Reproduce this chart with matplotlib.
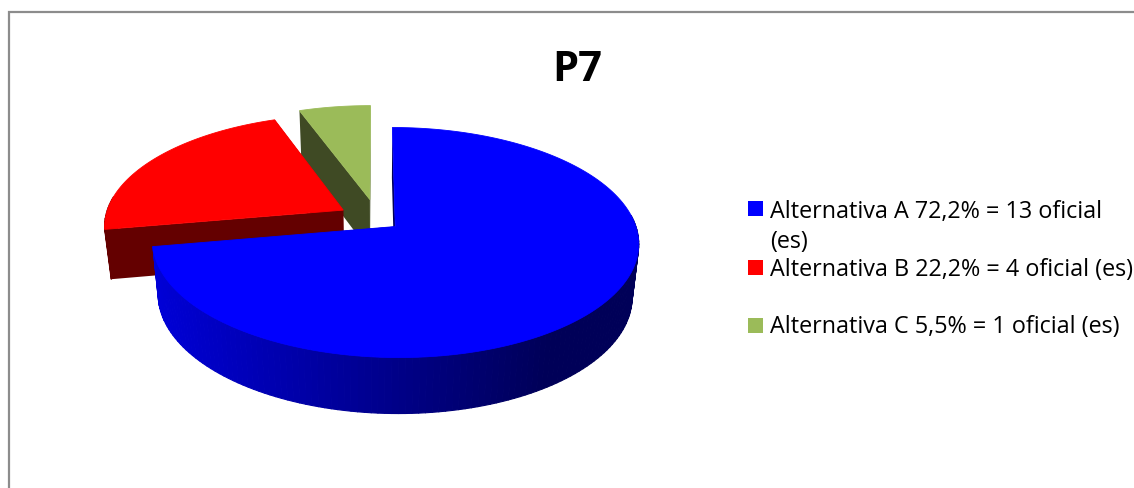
import numpy as np
import matplotlib
matplotlib.use("Agg")
import matplotlib.pyplot as plt
from matplotlib.patches import Polygon, Rectangle
from matplotlib.colors import to_rgb

# ---- data ----
categories = ["Alternativa A", "Alternativa B", "Alternativa C"]
officials = [13, 4, 1]
legend_lines = [["Alternativa A 72,2% = 13 oficial", "(es)"],
                ["Alternativa B 22,2% = 4 oficial (es)"],
                ["Alternativa C 5,5% = 1 oficial (es)"]]
title = "P7"

# ---- style ----
top_colors = ["#0000ff", "#ff0000", "#9bbb59"]
side_left = ["#0000d8", "#640000", "#3f4a24"]
side_right = ["#000058", "#640000", "#3f4a24"]
explode = 0.126
nudge = [(2, 0.5), (-1, 0), (5, -4)]   # per-slice screen shift
depth = [52.5, 49.5, 52.5]
CX, CY, A, B, K = 370, 218, 238, 110.3, 0.1375
SX, SY = 0.975, 1.025
FONT = "Open Sans"

fig = plt.figure(figsize=(11.34, 4.89), dpi=100)
ax = fig.add_axes([0, 0, 1, 1])
ax.set_xlim(0, 1134)
ax.set_ylim(489, 0)
ax.axis("off")


def project(px, py, dy, n):
    w = 1 - K * py
    sx, sy = (SX, SY) if dy else (1, 1)
    return (CX + n[0] + sx * A * px / w, CY + n[1] + dy + sy * B * py / w)


def ring(theta, ox, oy, radius=1.0):
    return ox + radius * np.sin(theta), oy - radius * np.cos(theta)


total = sum(officials)
edges = np.cumsum([0] + officials) / total * 2 * np.pi
for i in [2, 1, 0]:
    t0, t1 = edges[i], edges[i + 1]
    mid = (t0 + t1) / 2
    ox, oy = explode * np.sin(mid), -explode * np.cos(mid)
    n = nudge[i]
    ts = np.linspace(t0, t1, int((t1 - t0) * 40) + 2)
    tx, ty = project(*ring(ts, ox, oy), 0, n)
    bx, by = project(*ring(ts, ox, oy), depth[i], n)
    ax0, ay0 = project(ox, oy, 0, n)
    bx0, by0 = project(ox, oy, depth[i], n)
    # radial side faces
    for j in (0, -1):
        ax.add_patch(Polygon([(ax0, ay0), (tx[j], ty[j]), (bx[j], by[j]), (bx0, by0)],
                             closed=True, fc=side_right[i], ec="none", zorder=2 + (2 - i) * 3))
    # curved side face with horizontal shading (front-facing part only)
    cl, cr = np.array(to_rgb(side_left[i])), np.array(to_rgb(side_right[i]))
    for k in range(len(ts) - 1):
        if -np.cos(ts[k]) < -0.12:
            continue
        f = np.clip((tx[k] - 150) / 400, 0, 1)
        col = cl + (cr - cl) * f
        ax.add_patch(Polygon([(tx[k], ty[k]), (tx[k + 1], ty[k + 1]), (bx[k + 1], by[k + 1]), (bx[k], by[k])],
                             closed=True, fc=col, ec=col, lw=0.8, joinstyle="round", zorder=3 + (2 - i) * 3))
    # top face
    ax.add_patch(Polygon(np.column_stack([np.r_[ax0, tx], np.r_[ay0, ty]]), closed=True,
                         fc=top_colors[i], ec=top_colors[i], lw=0.6, zorder=4 + (2 - i) * 3))

# chart frame
ax.plot([8.5, 8.5, 1134], [489, 12.5, 12.5], color="#8c8c8c", lw=1.6, solid_joinstyle="miter", zorder=1)

# title
ax.text(577, 81, title, fontsize=30, fontweight="bold", family=FONT, ha="center", va="baseline", color="black")

# legend
swatch_tops = [202, 261, 319]
baselines = [[218, 248], [276], [333]]
for i in range(3):
    ax.add_patch(Rectangle((748, swatch_tops[i]), 15, 15, fc=top_colors[i], ec="none"))
    for line, y in zip(legend_lines[i], baselines[i]):
        ax.text(770, y, line, fontsize=16.85, family=FONT, ha="left", va="baseline", color="black")

fig.savefig("out.png", dpi=100)
